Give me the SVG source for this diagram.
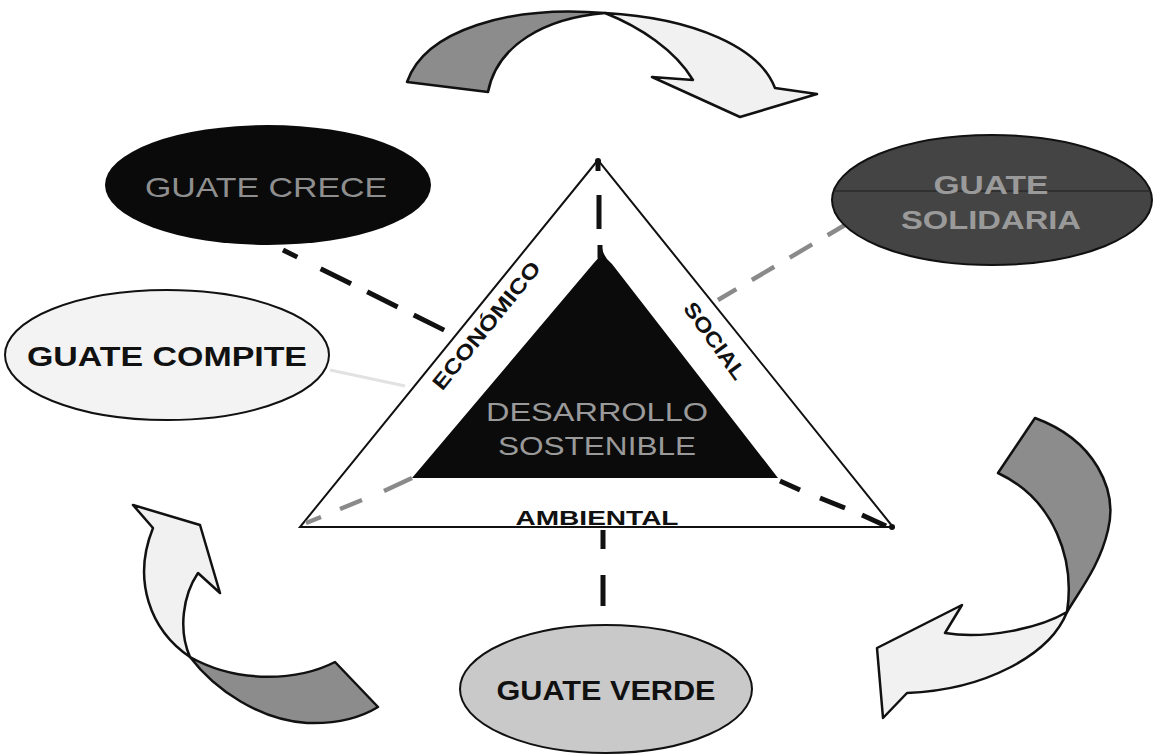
<svg xmlns="http://www.w3.org/2000/svg" width="1155" height="755" viewBox="0 0 1155 755">
<style>
.dark{fill:#8c8c8c;stroke:#111;stroke-width:2.5;stroke-linejoin:round}
.light{fill:#f1f1f1;stroke:#111;stroke-width:2.5;stroke-linejoin:round}
.bd{stroke:#111;stroke-width:5;fill:none}
.gd{stroke:#8a8a8a;stroke-width:4.5;fill:none}
.t{font-family:"Liberation Sans",Arial,sans-serif;text-anchor:middle}
</style>
<rect width="1155" height="755" fill="#fff"/>
<g id="arrow-top">
<path class="dark" d="M407,82 C425,30 510,5 605,13 C545,18 497,45 488,92 Z"/>
<path class="light" d="M605,13 C695,18 760,48 775,88 L817,94 L740,117 L652,77 L693,80 C675,50 640,27 605,13 Z"/>
</g>
<g id="arrow-right">
<path class="dark" d="M998,473 L1035,418 C1095,440 1118,490 1108,530 C1100,565 1080,590 1067,612 C1075,560 1055,500 998,473 Z"/>
<path class="light" d="M1067,612 C1050,655 985,690 907,693 L883,718 L877,648 L962,605 L945,633 C985,640 1040,628 1067,612 Z"/>
</g>
<g id="arrow-left">
<path class="light" d="M190,657 C150,630 132,580 153,528 L133,505 L200,525 L220,593 L198,573 C183,595 178,630 190,657 Z"/>
<path class="dark" d="M190,657 C215,690 260,720 307,723 C335,724 360,718 378,707 L335,662 C300,680 240,685 190,657 Z"/>
</g>
<g id="triangle">
<polygon points="598,160 300,527 893,527" fill="#fff" stroke="#111" stroke-width="2"/>
<path d="M412,478 L593,264 Q600,258 602,248 Q604,258 612,264 L778,478 Z" fill="#0b0b0b"/>
<circle cx="598" cy="161" r="3" fill="#111"/>
<circle cx="892" cy="527" r="3" fill="#111"/>
<text class="t" x="0" y="0" font-size="21" font-weight="bold" fill="#111" textLength="158" lengthAdjust="spacingAndGlyphs" transform="translate(492,330) rotate(-51)">ECONÓMICO</text>
<text class="t" x="0" y="0" font-size="21" font-weight="bold" fill="#111" textLength="90" lengthAdjust="spacingAndGlyphs" transform="translate(709,345) rotate(54)">SOCIAL</text>
<text class="t" x="597" y="525" font-size="21" font-weight="bold" fill="#111" textLength="163" lengthAdjust="spacingAndGlyphs">AMBIENTAL</text>
<text class="t" x="597" y="421" font-size="25" fill="#9a9a9a" textLength="222" lengthAdjust="spacingAndGlyphs">DESARROLLO</text>
<text class="t" x="597" y="455" font-size="25" fill="#9a9a9a" textLength="198" lengthAdjust="spacingAndGlyphs">SOSTENIBLE</text>
</g>
<g id="connectors">
<line x1="330" y1="370" x2="405" y2="386" stroke="#e2e2e2" stroke-width="3"/>
<path class="bd" d="M598,160 L598,171 M599,195 L599,229 M600,245 L600,258"/>
<path class="bd" d="M603,530 L603,549 M603,575 L603,606"/>
<path class="bd" d="M283,250 L456,336" stroke-dasharray="16 26 34 18 34 18 34 18"/>
<path class="bd" d="M780,481 L800,490 M820,498 L845,508 M862,515 L886,526"/>
<path class="gd" d="M850,222 L718,300" stroke-dasharray="26 18"/>
<path class="gd" d="M306,523 L321,517 M340,509 L362,500 M384,491 L412,478"/>
</g>
<g id="guate-crece">
<ellipse cx="268" cy="185" rx="163" ry="60" fill="#0a0a0a"/>
<text class="t" x="266" y="197" font-size="28" fill="#8f8f8f" textLength="242" lengthAdjust="spacingAndGlyphs">GUATE CRECE</text>
</g>
<g id="guate-solidaria">
<ellipse cx="992" cy="200" rx="160" ry="65" fill="#444" stroke="#111" stroke-width="2"/>
<line x1="834" y1="191" x2="1150" y2="191" stroke="#2a2a2a" stroke-width="1.5"/>
<text class="t" x="991" y="194" font-size="25" font-weight="bold" fill="#9a9a9a" textLength="115" lengthAdjust="spacingAndGlyphs">GUATE</text>
<text class="t" x="991" y="229" font-size="25" font-weight="bold" fill="#9a9a9a" textLength="180" lengthAdjust="spacingAndGlyphs">SOLIDARIA</text>
</g>
<g id="guate-compite">
<ellipse cx="167" cy="355" rx="162" ry="65" fill="#f3f3f3" stroke="#111" stroke-width="2"/>
<text class="t" x="167" y="366" font-size="27" font-weight="bold" fill="#111" textLength="280" lengthAdjust="spacingAndGlyphs">GUATE COMPITE</text>
</g>
<g id="guate-verde">
<ellipse cx="606" cy="689" rx="146" ry="64" fill="#c9c9c9" stroke="#111" stroke-width="2"/>
<text class="t" x="606" y="700" font-size="27" font-weight="bold" fill="#111" textLength="219" lengthAdjust="spacingAndGlyphs">GUATE VERDE</text>
</g>
</svg>
